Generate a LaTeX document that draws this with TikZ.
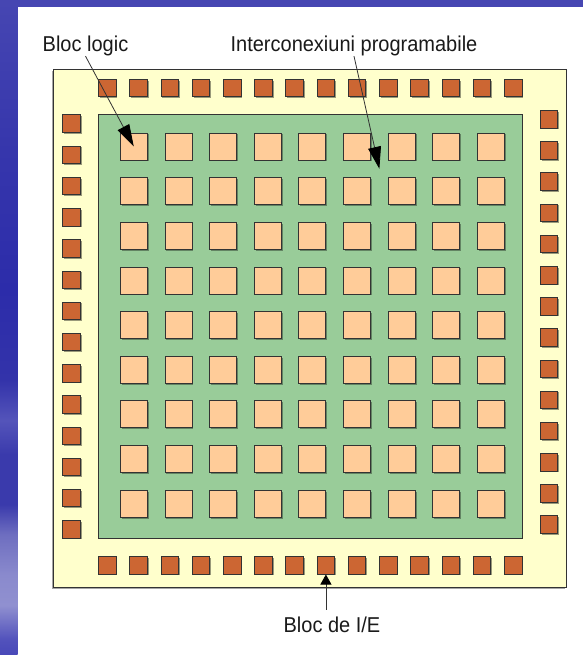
\documentclass[tikz,border=0pt]{standalone}
\usepackage{fontspec}
\setmainfont{Liberation Sans}[FakeStretch=0.93]
\usepackage{tikz}
\usetikzlibrary{arrows.meta, calc, positioning, shadows}
\definecolor{chipYellow}{HTML}{FFFFCC}
\definecolor{routeGreen}{HTML}{99CC99}
\definecolor{logicPeach}{HTML}{FFCC99}
\definecolor{padRust}{HTML}{CC6633}
\definecolor{edgeGray}{HTML}{333333}
\definecolor{txtGray}{HTML}{1A1A1A}
\definecolor{topBlue}{HTML}{4646B2}
\definecolor{sbA}{HTML}{4848B8}
\definecolor{sbB}{HTML}{5252BC}
\definecolor{sbC}{HTML}{9090D0}
\definecolor{sbD}{HTML}{8A8ACD}
\definecolor{sbE}{HTML}{6E6EC0}
\definecolor{sbF}{HTML}{3A3AAC}
\definecolor{sbG}{HTML}{5454BA}
\definecolor{sbH}{HTML}{3333AA}
\definecolor{sbI}{HTML}{2C2CAA}
\definecolor{sbJ}{HTML}{3636AC}
\pgfdeclareverticalshading{leftstrip}{100bp}{%
  color(0bp)=(sbA); color(25bp)=(sbA); color(26.2bp)=(sbB);
  color(28.8bp)=(sbC); color(31.1bp)=(sbD); color(34.2bp)=(sbE);
  color(36.5bp)=(sbF); color(40.3bp)=(sbF); color(42.9bp)=(sbG);
  color(46bp)=(sbH); color(52.9bp)=(sbI); color(63.5bp)=(sbJ);
  color(75bp)=(topBlue); color(100bp)=(topBlue)}
\tikzset{
  lbl/.style={font=\fontsize{21.5}{26}\selectfont, text=txtGray,
              inner sep=0pt, anchor=base},
  pad/.style={draw=edgeGray, fill=padRust, line width=0.9pt,
              minimum size=17.5pt, inner sep=0pt,
              drop shadow={shadow xshift=1.3pt, shadow yshift=-1.3pt,
                           opacity=.4, fill=black}},
  logic/.style={draw=edgeGray, fill=logicPeach, line width=0.9pt,
                minimum size=27pt, inner sep=0pt,
                drop shadow={shadow xshift=1.3pt, shadow yshift=-1.3pt,
                             opacity=.35, fill=black}},
  flow/.style={draw=edgeGray, line width=0.8pt,
               -{Triangle[length=22pt, width=13pt, color=black]}},
  flowsmall/.style={draw=edgeGray, line width=0.8pt,
                    -{Triangle[length=10pt, width=11pt, color=black]}},
}
\begin{document}
\begin{tikzpicture}[x=1pt, y=-1pt]
  % ----- page -----
  \useasboundingbox (0,0) rectangle (583,655);
  \fill[white] (0,0) rectangle (583,655);
  \shade[shading=leftstrip] (0,0) rectangle (17.7,655);  % side band
  \fill[topBlue] (0,0) rectangle (583,7.3);               % top band

  % ----- chip regions -----
  \fill[black, opacity=.35] (51.8,71.5) rectangle (565.2,588.8);
  \draw[edgeGray, fill=chipYellow, line width=1pt] (53.3,70) rectangle (566.7,587.3);
  \draw[edgeGray, fill=routeGreen, line width=1pt] (98.3,114.3) rectangle (522.3,538.3);

  % ----- logic blocks -----
  \foreach \i in {1,...,9}
    \foreach \j in {1,...,9}
      \node[logic] (lb-\i-\j) at ({133.8+44.65*(\i-1)}, {146.5+44.65*(\j-1)}) {};

  % ----- I/O pads -----
  \foreach \k in {0,...,13} {
    \node[pad] (pt-\k) at ({107.3+31.23*\k}, 88) {};
    \node[pad] (pb-\k) at ({107.3+31.23*\k}, 565.3) {};
    \node[pad] (pl-\k) at (71.5, {123.7+31.2*\k}) {};
    \node[pad] (pr-\k) at (549, {119.3+31.18*\k}) {};
  }

  % ----- labels -----
  \node[lbl] (bl) at (85.5,51.5) {Bloc logic};
  \node[lbl] (ic) at (354,51.5) {Interconexiuni programabile};
  \node[lbl] (io) at (332,632.7) {Bloc de I/E};

  % ----- pointers -----
  \coordinate (xing) at ($(lb-6-1)!0.5!(lb-7-2)$);
  \draw[flow] (bl.south) -- (lb-1-1.center);
  \draw[flow] (ic.south) -- (xing);
  \draw[flowsmall, shorten <=7pt] (io.north -| pb-7) -- (pb-7.south);
\end{tikzpicture}
\end{document}
